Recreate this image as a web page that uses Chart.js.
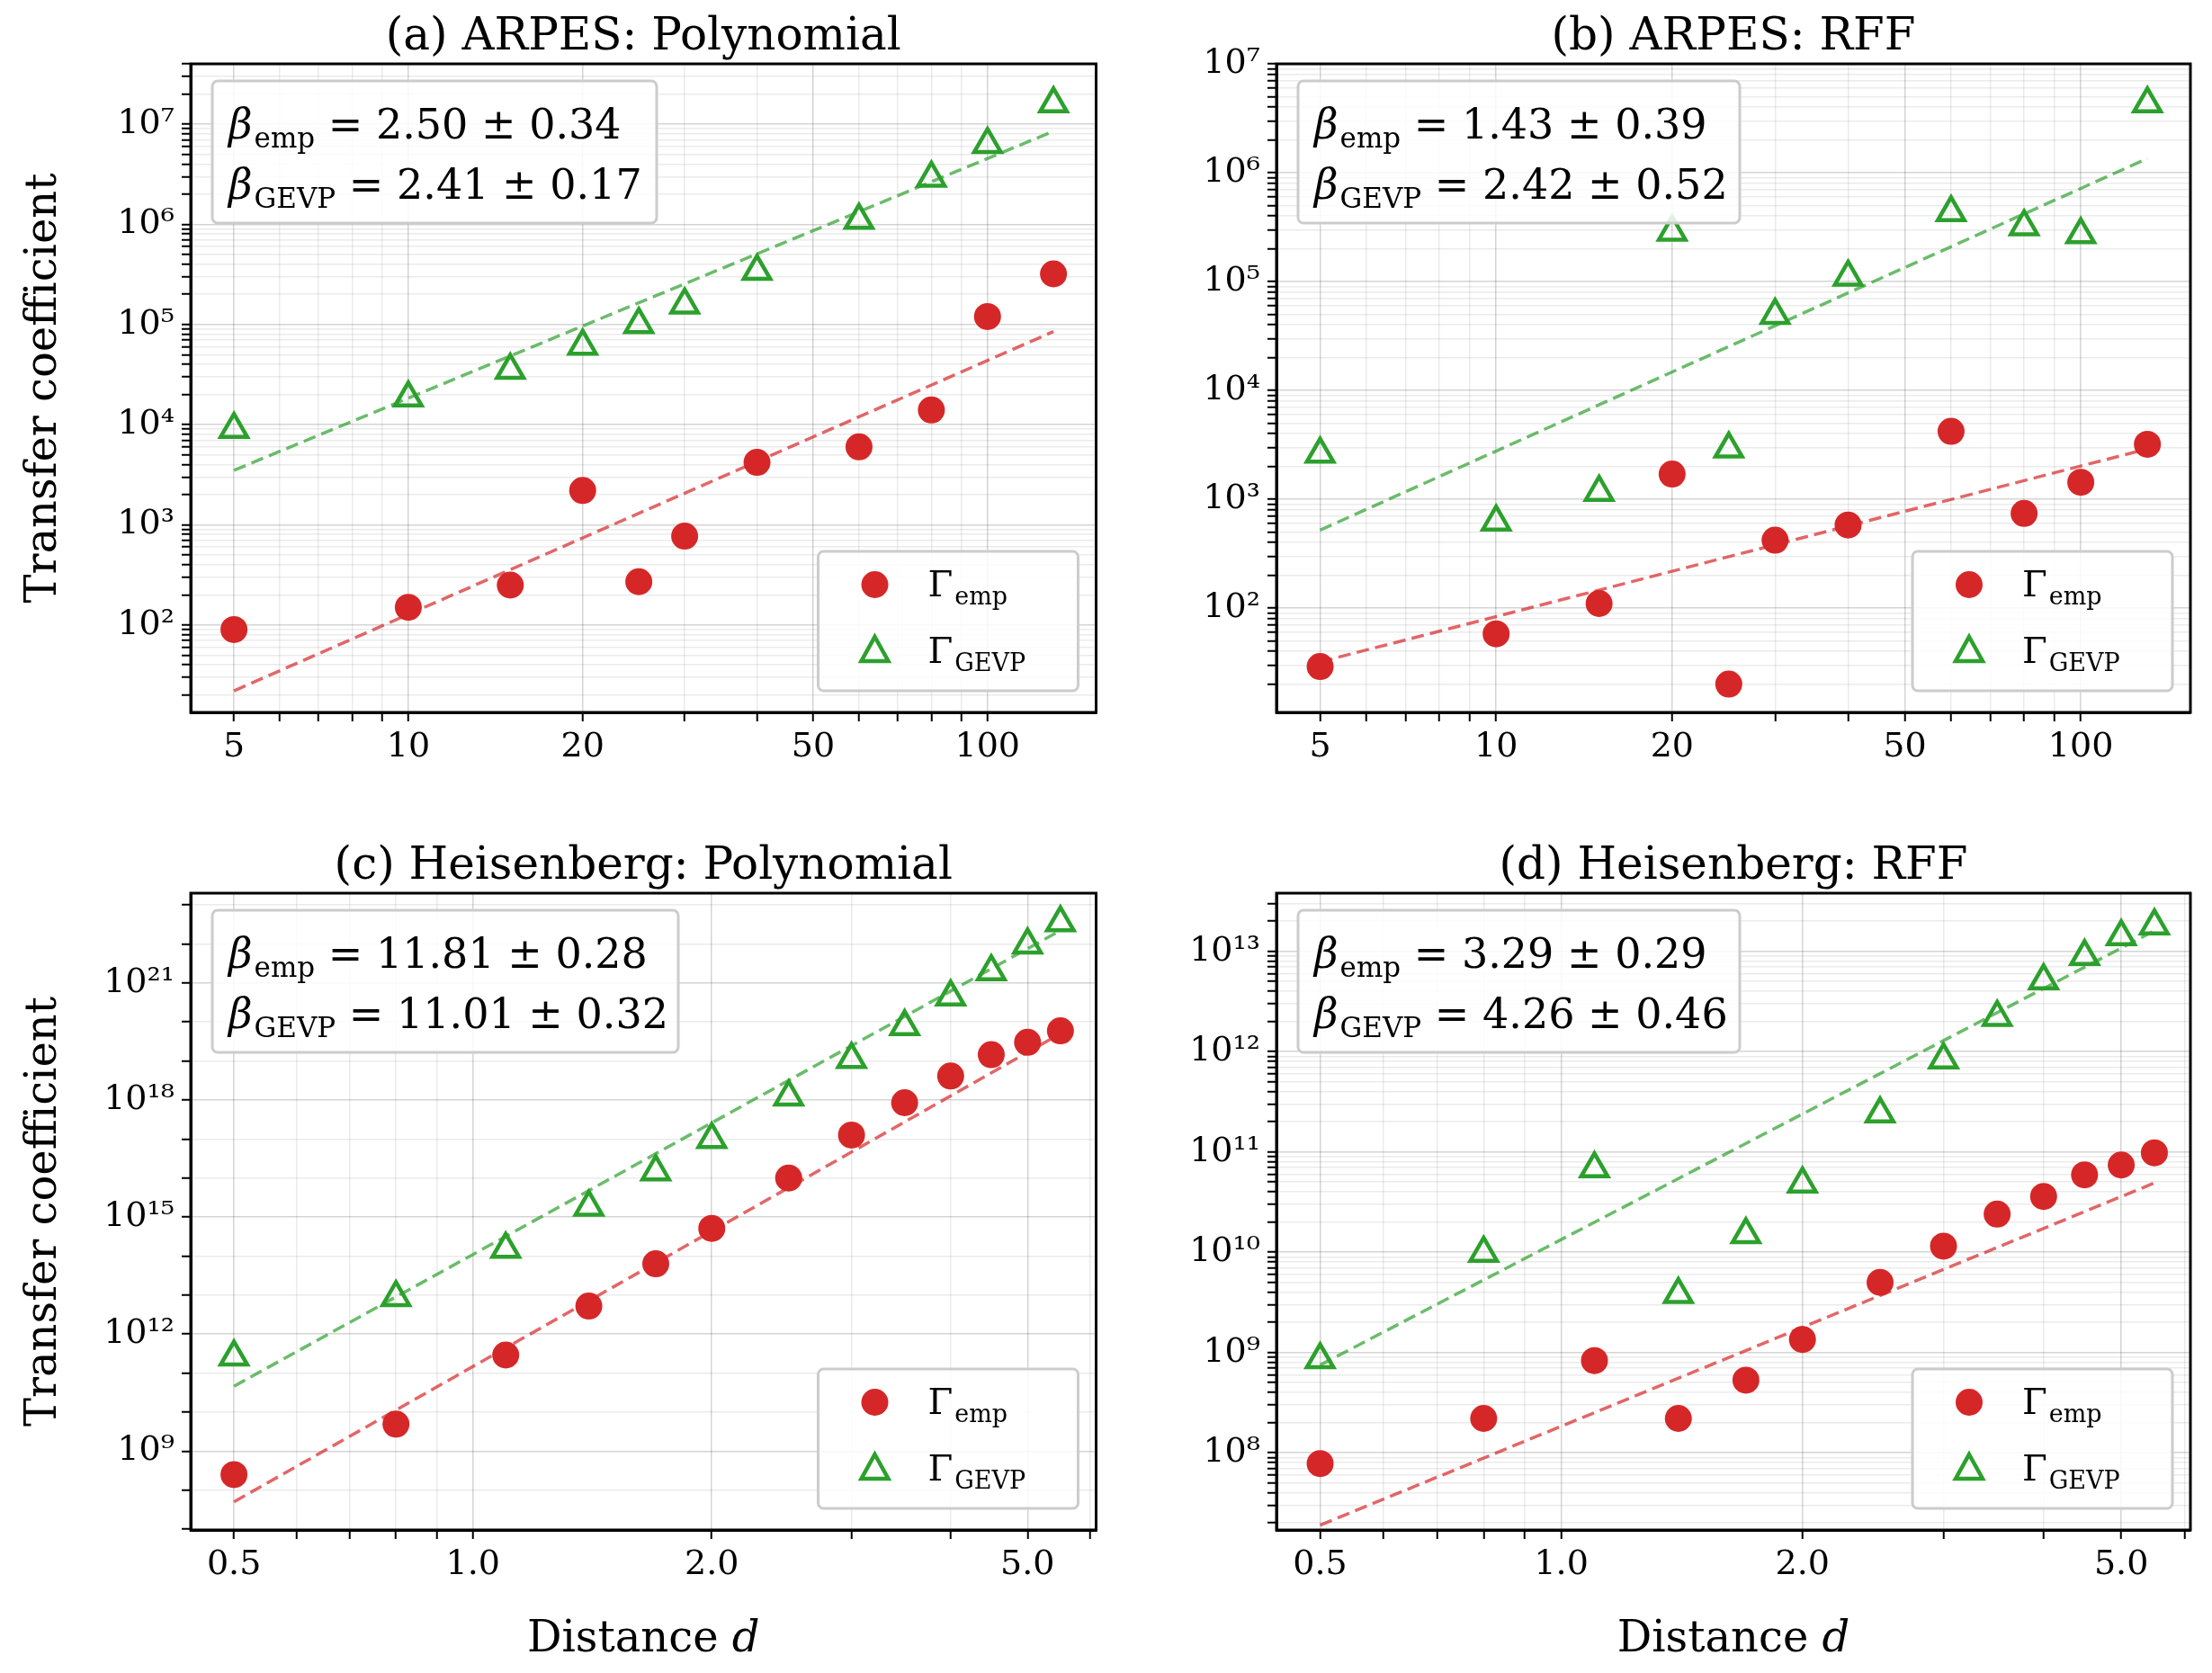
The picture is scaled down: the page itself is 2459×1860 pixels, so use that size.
<!DOCTYPE html>
<html>
<head>
<meta charset="utf-8">
<script src="https://cdn.jsdelivr.net/npm/chart.js@4.4.1/dist/chart.umd.min.js"></script>
<style>
  body { margin: 0; background: #fff; width: 2459px; height: 1860px; position: relative; overflow: hidden; }
  .panel { position: absolute; }
</style>
</head>
<body>
<div class="panel" style="left:0;top:0;width:1240px;height:900px"><canvas id="pa"></canvas></div>
<div class="panel" style="left:1230px;top:0;width:1229px;height:900px"><canvas id="pb"></canvas></div>
<div class="panel" style="left:0;top:900px;width:1240px;height:960px"><canvas id="pc"></canvas></div>
<div class="panel" style="left:1230px;top:900px;width:1229px;height:960px"><canvas id="pd"></canvas></div>
<script>
// ARPES distances
const arpesX = [5, 10, 15, 20, 25, 30, 40, 60, 80, 100, 130];
const aEmp  = [90, 150, 250, 2200, 270, 770, 4200, 6000, 14000, 1.2e5, 3.2e5];
const aGevp = [9000, 1.85e4, 3.5e4, 6.1e4, 1.0e5, 1.57e5, 3.4e5, 1.1e6, 2.9e6, 6.3e6, 1.6e7];
const aEmpFit  = [22, 8.5e4];
const aGevpFit = [3500, 8.5e6];
const bEmp  = [29, 58, 110, 1700, 20, 420, 580, 4200, 740, 1430, 3200];
const bGevp = [2600, 620, 1160, 2.85e5, 2900, 4.9e4, 1.1e5, 4.3e5, 3.2e5, 2.7e5, 4.3e6];
const bEmpFit  = [32, 2900];
const bGevpFit = [520, 1.35e6];

// Heisenberg distances
const heisX = [0.5, 0.8, 1.1, 1.4, 1.7, 2.0, 2.5, 3.0, 3.5, 4.0, 4.5, 5.0, 5.5];
const cEmp  = [2.5e8, 4.9e9, 2.9e11, 5.2e12, 6.3e13, 5.1e14, 1.0e16, 1.26e17, 8.5e17, 4.1e18, 1.45e19, 3.0e19, 5.9e19];
const cGevp = [2.6e11, 8.7e12, 1.5e14, 1.8e15, 1.45e16, 9.8e16, 1.2e18, 1.1e19, 7.6e19, 4.4e20, 1.95e21, 9.5e21, 3.5e22];
const cEmpFit  = [5.0e7, 5.0e19];
const cGevpFit = [4.6e10, 2.2e22];
const dEmp  = [7.8e7, 2.2e8, 8.3e8, 2.2e8, 5.3e8, 1.35e9, 5.0e9, 1.15e10, 2.4e10, 3.6e10, 5.9e10, 7.4e10, 9.8e10];
const dGevp = [8.5e8, 9.8e9, 6.8e10, 3.8e9, 1.5e10, 4.8e10, 2.4e11, 8.3e11, 2.2e12, 5.1e12, 8.9e12, 1.4e13, 1.8e13];
const dEmpFit  = [1.9e7, 4.9e10];
const dGevpFit = [7.5e8, 1.6e13];

const arpesXTicks = [5, 10, 20, 50, 100];
const heisXTicks = [0.5, 1.0, 2.0, 5.0];

const panels = [
  { id: 'pa', title: '(a) ARPES: Polynomial', x: arpesX, emp: aEmp, gevp: aGevp, empFit: aEmpFit, gevpFit: aGevpFit,
    xr: [4.21, 154], yr: [13.4, 4e7], xTicks: arpesXTicks, yStep: 1, beta: ['2.50 ± 0.34', '2.41 ± 0.17'],
    pad: { left: 0, right: 9, top: 71 }, yw: 212, xh: 108, ylab: true, xlab: false, boxW: 494 },
  { id: 'pb', title: '(b) ARPES: RFF', x: arpesX, emp: bEmp, gevp: bGevp, empFit: bEmpFit, gevpFit: bGevpFit,
    xr: [4.21, 154], yr: [11, 1e7], xTicks: arpesXTicks, yStep: 1, beta: ['1.43 ± 0.39', '2.42 ± 0.52'],
    pad: { left: 0, right: 24, top: 71 }, yw: 189, xh: 108, ylab: false, xlab: false, boxW: 491 },
  { id: 'pc', title: '(c) Heisenberg: Polynomial', x: heisX, emp: cEmp, gevp: cGevp, empFit: cEmpFit, gevpFit: cGevpFit,
    xr: [0.441, 6.1], yr: [9.5e6, 2.0e23], xTicks: heisXTicks, yStep: 3, beta: ['11.81 ± 0.28', '11.01 ± 0.32'],
    pad: { left: 0, right: 9, top: 93 }, yw: 212, xh: 159, ylab: true, xlab: true, boxW: 518 },
  { id: 'pd', title: '(d) Heisenberg: RFF', x: heisX, emp: dEmp, gevp: dGevp, empFit: dEmpFit, gevpFit: dGevpFit,
    xr: [0.441, 6.1], yr: [1.7e7, 3.8e13], xTicks: heisXTicks, yStep: 1, beta: ['3.29 ± 0.29', '4.26 ± 0.46'],
    pad: { left: 0, right: 24, top: 93 }, yw: 189, xh: 159, ylab: false, xlab: true, boxW: 491 },
];

const RED = '#d62728', GREEN = '#2ca02c';
const SERIF = '"DejaVu Serif", serif';
const SUP = { '0': '⁰', '1': '¹', '2': '²', '3': '³', '4': '⁴', '5': '⁵', '6': '⁶', '7': '⁷', '8': '⁸', '9': '⁹' };
const sup = (n) => String(n).split('').map((c) => SUP[c]).join('');

function logTicks(min, max) {
  const out = [];
  for (let e = Math.floor(Math.log10(min)); e <= Math.ceil(Math.log10(max)); e++) {
    for (let m = 1; m < 10; m++) {
      const v = m * Math.pow(10, e);
      if (v >= min && v <= max) out.push({ value: v, major: m === 1 });
    }
  }
  return out;
}

function yTicks(min, max, step) {
  const out = [];
  for (let e = Math.ceil(Math.log10(min)); e <= Math.floor(Math.log10(max)); e++) {
    out.push({ value: Math.pow(10, e), major: e % step === 0, exp: e });
  }
  return out;
}

function roundRect(ctx, x, y, w, h, r) {
  ctx.beginPath();
  ctx.moveTo(x + r, y);
  ctx.arcTo(x + w, y, x + w, y + h, r);
  ctx.arcTo(x + w, y + h, x, y + h, r);
  ctx.arcTo(x, y + h, x, y, r);
  ctx.arcTo(x, y, x + w, y, r);
  ctx.closePath();
}

function subText(ctx, x, y, main, sub, rest, size, italic) {
  ctx.font = (italic ? 'italic ' : '') + size + 'px ' + SERIF;
  ctx.fillText(main, x, y);
  x += ctx.measureText(main).width + 2;
  ctx.font = Math.round(size * 0.68) + 'px ' + SERIF;
  ctx.fillText(sub, x, y + size * 0.22);
  x += ctx.measureText(sub).width;
  if (rest) {
    ctx.font = size + 'px ' + SERIF;
    ctx.fillText(rest, x, y);
  }
}

function decorPlugin(p) {
  return {
    id: 'decor',
    afterDraw(chart) {
      const { ctx, chartArea: a } = chart;
      ctx.save();
      // full frame
      ctx.strokeStyle = '#000';
      ctx.lineWidth = 3;
      ctx.strokeRect(a.left, a.top, a.right - a.left, a.bottom - a.top);
      ctx.fillStyle = '#000';
      ctx.textAlign = 'center';
      ctx.textBaseline = 'alphabetic';
      ctx.font = '50px ' + SERIF;
      ctx.fillText(p.title, (a.left + a.right) / 2, a.top - 16);
      if (p.ylab) {
        ctx.save();
        ctx.translate(62, (a.top + a.bottom) / 2);
        ctx.rotate(-Math.PI / 2);
        ctx.font = '48px ' + SERIF;
        ctx.fillText('Transfer coefficient', 0, 0);
        ctx.restore();
      }
      if (p.xlab) {
        const cx = (a.left + a.right) / 2;
        ctx.font = '48px ' + SERIF;
        const w1 = ctx.measureText('Distance ').width;
        ctx.font = 'italic 48px ' + SERIF;
        const w2 = ctx.measureText('d').width;
        ctx.textAlign = 'left';
        ctx.font = '48px ' + SERIF;
        ctx.fillText('Distance ', cx - (w1 + w2) / 2, a.bottom + 135);
        ctx.font = 'italic 48px ' + SERIF;
        ctx.fillText('d', cx - (w1 + w2) / 2 + w1, a.bottom + 135);
      }
      ctx.textAlign = 'left';
      // beta text box
      const bx = a.left + 24, by = a.top + 19;
      roundRect(ctx, bx, by, p.boxW, 158, 6);
      ctx.fillStyle = 'rgba(255,255,255,0.85)';
      ctx.fill();
      ctx.strokeStyle = '#cccccc';
      ctx.lineWidth = 3;
      ctx.stroke();
      ctx.fillStyle = '#000';
      subText(ctx, bx + 18, by + 64, 'β', 'emp', ' = ' + p.beta[0], 46, true);
      subText(ctx, bx + 18, by + 131, 'β', 'GEVP', ' = ' + p.beta[1], 46, true);
      // legend
      const lw = 289, lh = 155;
      const lx = a.right - 20 - lw, ly = a.bottom - 24 - lh;
      roundRect(ctx, lx, ly, lw, lh, 6);
      ctx.fillStyle = 'rgba(255,255,255,0.85)';
      ctx.fill();
      ctx.strokeStyle = '#cccccc';
      ctx.stroke();
      ctx.fillStyle = RED;
      ctx.beginPath();
      ctx.arc(lx + 63, ly + 37, 15, 0, Math.PI * 2);
      ctx.fill();
      ctx.strokeStyle = GREEN;
      ctx.lineWidth = 4.5;
      ctx.beginPath();
      ctx.moveTo(lx + 63, ly + 111 - 16);
      ctx.lineTo(lx + 63 + 15, ly + 111 + 11);
      ctx.lineTo(lx + 63 - 15, ly + 111 + 11);
      ctx.closePath();
      ctx.stroke();
      ctx.fillStyle = '#000';
      subText(ctx, lx + 122, ly + 50, 'Γ', 'emp', '', 40, false);
      subText(ctx, lx + 122, ly + 124, 'Γ', 'GEVP', '', 40, false);
      ctx.restore();
    }
  };
}

function makeChart(p) {
  const pts = (ys) => p.x.map((x, i) => ({ x, y: ys[i] }));
  const fit = (ys) => [{ x: p.x[0], y: ys[0] }, { x: p.x[p.x.length - 1], y: ys[1] }];
  const xLabels = new Set(p.xTicks);
  new Chart(document.getElementById(p.id), {
    type: 'scatter',
    data: {
      datasets: [
        { data: fit(p.empFit), showLine: true, pointRadius: 0, borderColor: 'rgba(214,39,40,0.7)', borderWidth: 3.5, borderDash: [14, 7] },
        { data: fit(p.gevpFit), showLine: true, pointRadius: 0, borderColor: 'rgba(44,160,44,0.7)', borderWidth: 3.5, borderDash: [14, 7] },
        { data: pts(p.emp), pointStyle: 'circle', pointRadius: 15, backgroundColor: RED, borderColor: RED, borderWidth: 0 },
        { data: pts(p.gevp), pointStyle: 'triangle', pointRadius: 17, backgroundColor: 'rgba(0,0,0,0)', borderColor: GREEN, borderWidth: 4.5 },
      ],
    },
    options: {
      responsive: true,
      maintainAspectRatio: false,
      animation: false,
      events: [],
      layout: { padding: { left: p.pad.left, right: p.pad.right, top: p.pad.top, bottom: 0 } },
      plugins: { legend: { display: false }, tooltip: { enabled: false }, title: { display: false } },
      scales: {
        x: {
          type: 'logarithmic', min: p.xr[0], max: p.xr[1],
          afterBuildTicks: (s) => { s.ticks = logTicks(p.xr[0], p.xr[1]); },
          afterFit: (s) => { s.height = p.xh; },
          ticks: {
            autoSkip: false, maxRotation: 0, color: '#000', padding: 6,
            font: { family: SERIF, size: 38 },
            callback: (v) => (xLabels.has(v) ? (p.xTicks[0] < 1 ? v.toFixed(1) : String(v)) : ''),
          },
          grid: {
            color: (c) => (c.tick && xLabels.has(c.tick.value) ? 'rgba(0,0,0,0.17)' : 'rgba(0,0,0,0.08)'),
            lineWidth: 1.5, tickLength: 10, tickColor: '#000', tickWidth: 2,
          },
          border: { color: '#000', width: 3 },
        },
        y: {
          type: 'logarithmic', min: p.yr[0], max: p.yr[1],
          afterBuildTicks: (s) => {
            s.ticks = p.yStep === 1 ? logTicks(p.yr[0], p.yr[1]) : yTicks(p.yr[0], p.yr[1], p.yStep);
          },
          afterFit: (s) => { s.width = p.yw; },
          ticks: {
            autoSkip: false, color: '#000', padding: 8,
            font: { family: SERIF, size: 38 },
            callback: (v) => {
              const e = Math.round(Math.log10(v));
              if (Math.abs(Math.pow(10, e) - v) / v > 1e-6) return '';
              if (e % p.yStep !== 0) return '';
              return '10' + sup(e);
            },
          },
          grid: {
            color: (c) => (c.tick && c.tick.major ? 'rgba(0,0,0,0.17)' : 'rgba(0,0,0,0.08)'),
            lineWidth: 1.5, tickLength: 10, tickColor: '#000', tickWidth: 2,
          },
          border: { color: '#000', width: 3 },
        },
      },
    },
    plugins: [decorPlugin(p)],
  });
}

panels.forEach(makeChart);
</script>
</body>
</html>
